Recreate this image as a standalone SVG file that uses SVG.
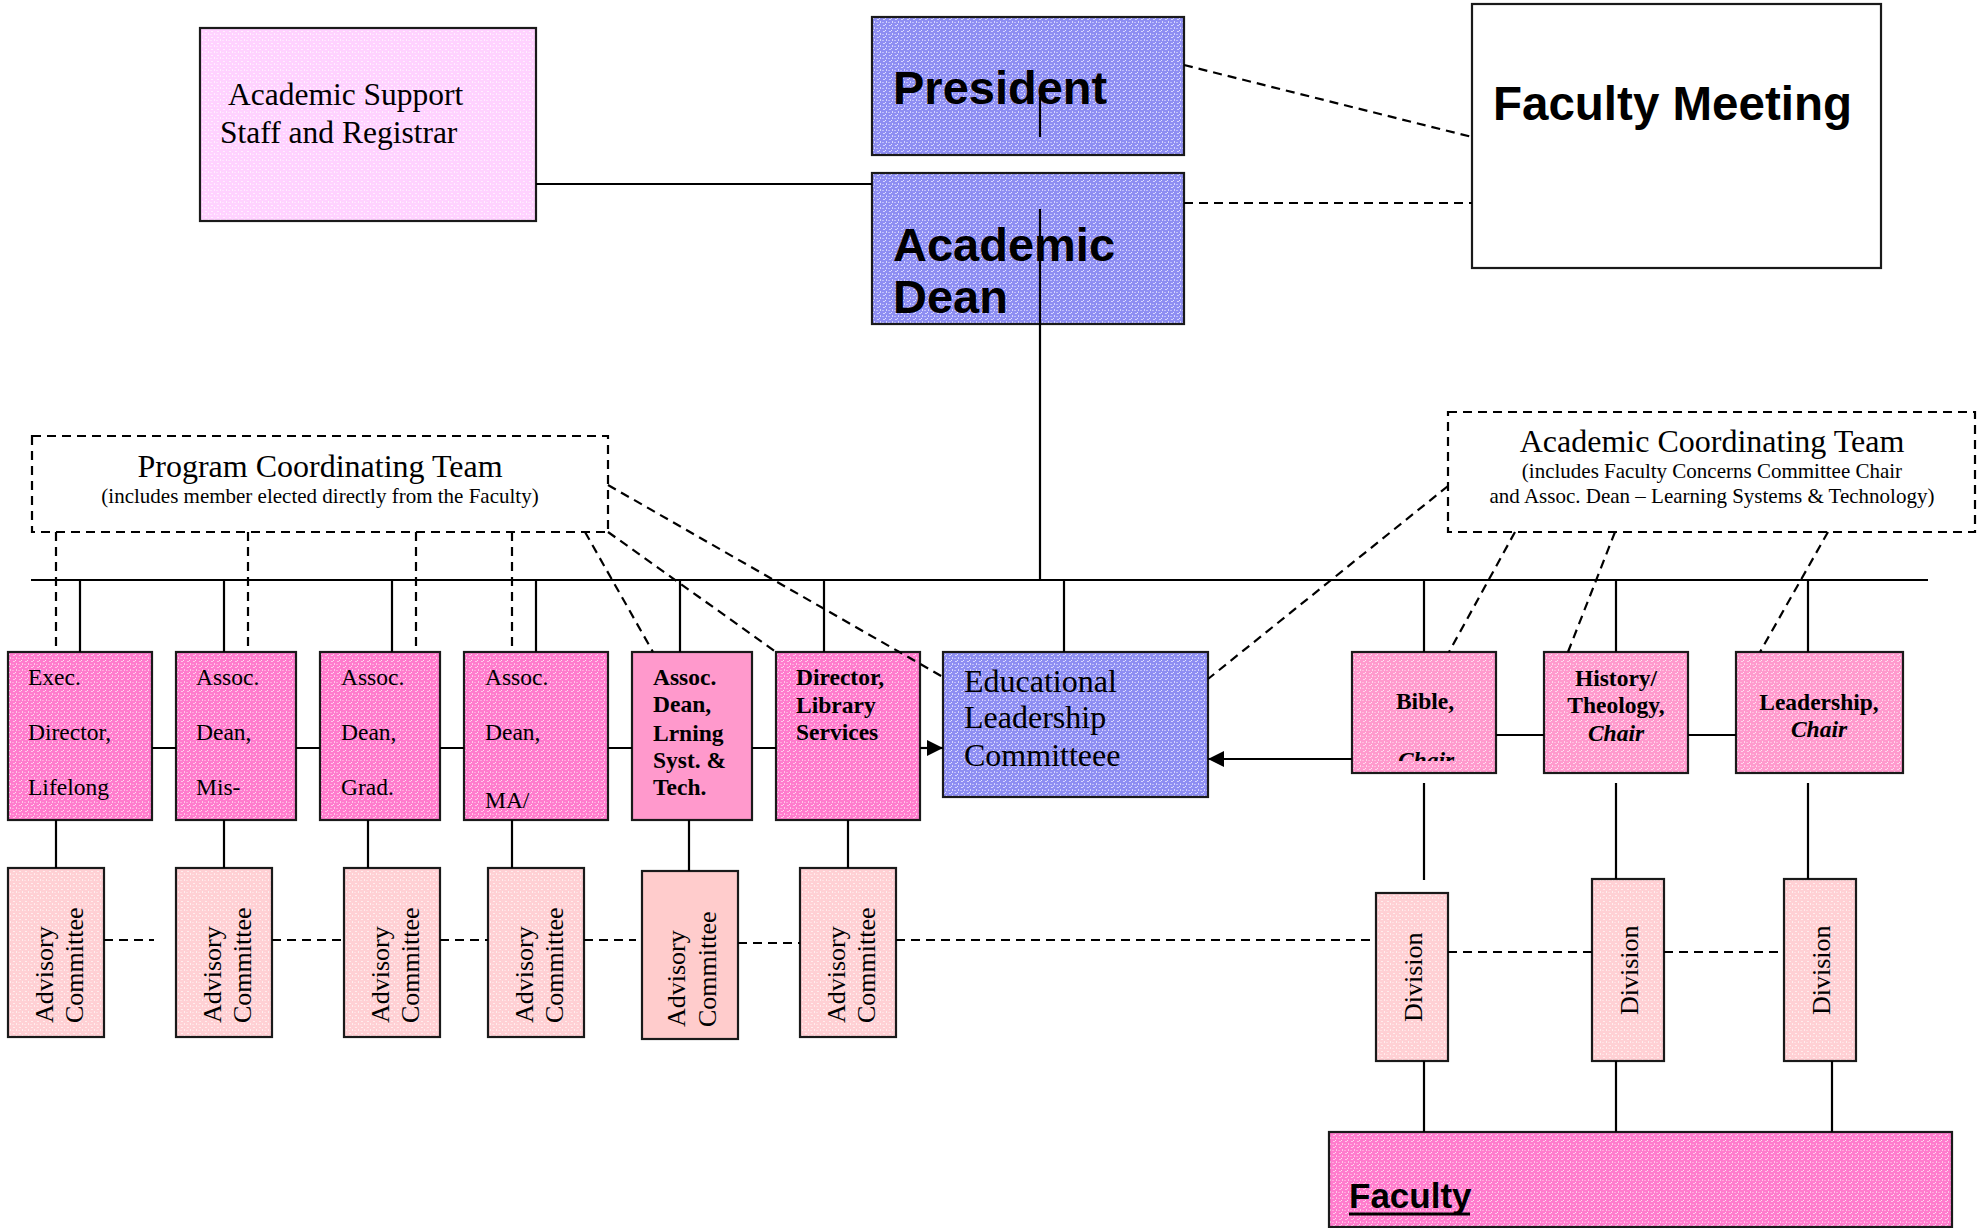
<svg xmlns="http://www.w3.org/2000/svg" width="1979" height="1228" viewBox="0 0 1979 1228">
<style>
.box{stroke:#1a1a1a;stroke-width:2.2}
.ln{stroke:#000;stroke-width:2.2;fill:none}
.dl{stroke:#000;stroke-width:2.2;fill:none;stroke-dasharray:9 6}
.serif{font-family:"Liberation Serif","Times New Roman",serif;fill:#000}
.sans{font-family:"Liberation Sans",Arial,sans-serif;font-weight:bold;fill:#000}
.big{font-size:47px}
.t32{font-size:32px}
.t21{font-size:21px}
.t23{font-size:23.5px}
.t26{font-size:26px}
.b{font-weight:bold}
.c{text-anchor:middle}
</style>
<defs>
<pattern id="pBlue" width="6" height="6" patternUnits="userSpaceOnUse">
<rect width="6" height="6" fill="#8E8EF2"/>
<rect x="1" y="1" width="2" height="1" fill="#D6D6FF"/>
<rect x="4" y="3" width="1" height="2" fill="#D6D6FF"/>
<rect x="0" y="4" width="2" height="1" fill="#BEBEFA"/>
<rect x="3" y="0" width="1" height="1" fill="#E4E4FF"/>
</pattern>
<pattern id="pPink" width="6" height="6" patternUnits="userSpaceOnUse">
<rect width="6" height="6" fill="#FF7CCD"/>
<rect x="1" y="1" width="2" height="1" fill="#FFC8EA"/>
<rect x="4" y="3" width="1" height="2" fill="#FFC8EA"/>
<rect x="0" y="4" width="2" height="1" fill="#FFA8DC"/>
<rect x="3" y="0" width="1" height="1" fill="#FFE0F2"/>
</pattern>
<pattern id="pPink2" width="6" height="6" patternUnits="userSpaceOnUse">
<rect width="6" height="6" fill="#FF9ACD"/>
<rect x="1" y="1" width="2" height="1" fill="#FFD6EC"/>
<rect x="4" y="3" width="1" height="2" fill="#FFD6EC"/>
<rect x="0" y="4" width="2" height="1" fill="#FFBCDD"/>
<rect x="3" y="0" width="1" height="1" fill="#FFE8F4"/>
</pattern>
<pattern id="pLilac" width="6" height="6" patternUnits="userSpaceOnUse">
<rect width="6" height="6" fill="#FFD2FF"/>
<rect x="1" y="1" width="2" height="1" fill="#FFF0FF"/>
<rect x="4" y="3" width="1" height="2" fill="#FFF0FF"/>
<rect x="0" y="4" width="2" height="1" fill="#FFE4FF"/>
</pattern>
<pattern id="pRose" width="6" height="6" patternUnits="userSpaceOnUse">
<rect width="6" height="6" fill="#FFD0D4"/>
<rect x="1" y="1" width="2" height="1" fill="#FFEEEE"/>
<rect x="4" y="3" width="1" height="2" fill="#FFEEEE"/>
<rect x="0" y="4" width="2" height="1" fill="#FFE0E2"/>
</pattern>
<marker id="arr" markerUnits="userSpaceOnUse" markerWidth="16" markerHeight="16" refX="16" refY="8" orient="auto">
<path d="M0,0 L16,8 L0,16 z" fill="#000"/>
</marker>
<clipPath id="bibleClip"><rect x="1352" y="652" width="144" height="109"/></clipPath>
</defs>
<rect width="1979" height="1228" fill="#fff"/>

<g id="n-support"><rect class="box" x="200" y="28" width="336" height="193" fill="url(#pLilac)"/>
<text class="serif" x="228" y="105" font-size="31.5">Academic Support</text>
<text class="serif" x="220" y="143" font-size="31.5">Staff and Registrar</text></g>

<g id="n-president"><rect class="box" x="872" y="17" width="312" height="138" fill="url(#pBlue)"/>
<text class="sans big" x="893" y="104">President</text></g>

<g id="n-dean"><rect class="box" x="872" y="173" width="312" height="151" fill="url(#pBlue)"/>
<text class="sans big" x="893" y="261">Academic</text>
<text class="sans big" x="893" y="313">Dean</text></g>

<g id="n-facmeeting"><rect class="box" x="1472" y="4" width="409" height="264" fill="#fff"/>
<text class="sans" x="1493" y="120" font-size="47.5">Faculty Meeting</text></g>

<g id="n-pct"><rect class="dl" x="32" y="436" width="576" height="96" fill="none"/>
<text class="serif t32 c" x="320" y="477">Program Coordinating Team</text>
<text class="serif t21 c" x="320" y="503">(includes member elected directly from the Faculty)</text></g>

<g id="n-act"><rect class="dl" x="1448" y="412" width="527" height="120" fill="none"/>
<text class="serif t32 c" x="1712" y="452">Academic Coordinating Team</text>
<text class="serif t21 c" x="1712" y="478">(includes Faculty Concerns Committee Chair</text>
<text class="serif t21 c" x="1712" y="503">and Assoc. Dean – Learning Systems &amp; Technology)</text></g>

<g id="n-exec"><rect class="box" x="8" y="652" width="144" height="168" fill="url(#pPink)"/>
<text class="serif t23" x="28" y="685">Exec.</text>
<text class="serif t23" x="28" y="740">Director,</text>
<text class="serif t23" x="28" y="795">Lifelong</text></g>

<g id="n-mis"><rect class="box" x="176" y="652" width="120" height="168" fill="url(#pPink)"/>
<text class="serif t23" x="196" y="685">Assoc.</text>
<text class="serif t23" x="196" y="740">Dean,</text>
<text class="serif t23" x="196" y="795">Mis-</text></g>

<g id="n-grad"><rect class="box" x="320" y="652" width="120" height="168" fill="url(#pPink)"/>
<text class="serif t23" x="341" y="685">Assoc.</text>
<text class="serif t23" x="341" y="740">Dean,</text>
<text class="serif t23" x="341" y="795">Grad.</text></g>

<g id="n-ma"><rect class="box" x="464" y="652" width="144" height="168" fill="url(#pPink)"/>
<text class="serif t23" x="485" y="685">Assoc.</text>
<text class="serif t23" x="485" y="740">Dean,</text>
<text class="serif t23" x="485" y="808">MA/</text></g>

<g id="n-lrning"><rect class="box" x="632" y="652" width="120" height="168" fill="#FF99CC"/>
<text class="serif t23 b" x="653" y="685">Assoc.</text>
<text class="serif t23 b" x="653" y="712">Dean,</text>
<text class="serif t23 b" x="653" y="741">Lrning</text>
<text class="serif t23 b" x="653" y="768">Syst. &amp;</text>
<text class="serif t23 b" x="653" y="795">Tech.</text></g>

<g id="n-library"><rect class="box" x="776" y="652" width="144" height="168" fill="url(#pPink)"/>
<text class="serif t23 b" x="796" y="685">Director,</text>
<text class="serif t23 b" x="796" y="713">Library</text>
<text class="serif t23 b" x="796" y="740">Services</text></g>

<g id="n-elc"><rect class="box" x="943" y="652" width="265" height="145" fill="url(#pBlue)"/>
<text class="serif t32" x="964" y="692">Educational</text>
<text class="serif t32" x="964" y="728">Leadership</text>
<text class="serif t32" x="964" y="766">Committeee</text></g>

<g id="n-bible"><rect class="box" x="1352" y="652" width="144" height="121" fill="url(#pPink2)"/>
<text class="serif t23 b c" x="1425" y="709">Bible,</text>
<text class="serif t23 b c" x="1426" y="768" font-style="italic" clip-path="url(#bibleClip)">Chair</text></g>

<g id="n-history"><rect class="box" x="1544" y="652" width="144" height="121" fill="url(#pPink2)"/>
<text class="serif t23 b c" x="1616" y="686">History/</text>
<text class="serif t23 b c" x="1616" y="713">Theology,</text>
<text class="serif t23 b c" x="1616" y="741" font-style="italic">Chair</text></g>

<g id="n-leadership"><rect class="box" x="1736" y="652" width="167" height="121" fill="url(#pPink2)"/>
<text class="serif t23 b c" x="1819" y="710">Leadership,</text>
<text class="serif t23 b c" x="1819" y="737" font-style="italic">Chair</text></g>

<g id="n-adv1"><rect class="box" x="8" y="868" width="96" height="169" fill="url(#pRose)"/>
<text class="serif t26" transform="translate(53,1023) rotate(-90)">Advisory</text>
<text class="serif t26" transform="translate(83,1023) rotate(-90)">Committee</text></g>
<g id="n-adv2"><rect class="box" x="176" y="868" width="96" height="169" fill="url(#pRose)"/>
<text class="serif t26" transform="translate(221,1023) rotate(-90)">Advisory</text>
<text class="serif t26" transform="translate(251,1023) rotate(-90)">Committee</text></g>
<g id="n-adv3"><rect class="box" x="344" y="868" width="96" height="169" fill="url(#pRose)"/>
<text class="serif t26" transform="translate(389,1023) rotate(-90)">Advisory</text>
<text class="serif t26" transform="translate(419,1023) rotate(-90)">Committee</text></g>
<g id="n-adv4"><rect class="box" x="488" y="868" width="96" height="169" fill="url(#pRose)"/>
<text class="serif t26" transform="translate(533,1023) rotate(-90)">Advisory</text>
<text class="serif t26" transform="translate(563,1023) rotate(-90)">Committee</text></g>
<g id="n-adv5"><rect class="box" x="642" y="871" width="96" height="168" fill="#FFCCCC"/>
<text class="serif t26" transform="translate(685,1027) rotate(-90)">Advisory</text>
<text class="serif t26" transform="translate(716,1027) rotate(-90)">Committee</text></g>
<g id="n-adv6"><rect class="box" x="800" y="868" width="96" height="169" fill="url(#pRose)"/>
<text class="serif t26" transform="translate(845,1023) rotate(-90)">Advisory</text>
<text class="serif t26" transform="translate(875,1023) rotate(-90)">Committee</text></g>

<g id="n-div1"><rect class="box" x="1376" y="893" width="72" height="168" fill="url(#pRose)"/>
<text class="serif t26" transform="translate(1422,1022) rotate(-90)">Division</text></g>
<g id="n-div2"><rect class="box" x="1592" y="879" width="72" height="182" fill="url(#pRose)"/>
<text class="serif t26" transform="translate(1638,1015) rotate(-90)">Division</text></g>
<g id="n-div3"><rect class="box" x="1784" y="879" width="72" height="182" fill="url(#pRose)"/>
<text class="serif t26" transform="translate(1830,1015) rotate(-90)">Division</text></g>

<g id="n-faculty"><rect class="box" x="1329" y="1132" width="623" height="95" fill="url(#pPink)"/>
<text class="sans" x="1349" y="1208" font-size="35">Faculty</text>
<line x1="1349" y1="1214" x2="1470" y2="1214" stroke="#000" stroke-width="3"/></g>

<g id="connectors">
<line class="ln" x1="536" y1="184" x2="872" y2="184"/>
<line class="ln" x1="1040" y1="97" x2="1040" y2="137"/>
<line class="ln" x1="1040" y1="209" x2="1040" y2="580"/>
<line class="dl" x1="1184" y1="65" x2="1472" y2="137"/>
<line class="dl" x1="1184" y1="203" x2="1472" y2="203"/>
<line class="ln" x1="31" y1="580" x2="1928" y2="580"/>
<path class="ln" d="M80,580V652 M224,580V652 M392,580V652 M536,580V652 M680,580V652 M824,580V652 M1064,580V652 M1424,580V652 M1616,580V652 M1808,580V652"/>
<path class="dl" d="M56,532V652 M248,532V652 M416,532V652 M512,532V652"/>
<line class="dl" x1="585" y1="532" x2="653" y2="652"/>
<line class="dl" x1="608" y1="532" x2="776" y2="652"/>
<line class="dl" x1="608" y1="485" x2="943" y2="677"/>
<line class="dl" x1="1448" y1="486" x2="1208" y2="679"/>
<line class="dl" x1="1515" y1="532" x2="1449" y2="652"/>
<line class="dl" x1="1615" y1="532" x2="1568" y2="652"/>
<line class="dl" x1="1828" y1="532" x2="1760" y2="652"/>
<path class="ln" d="M152,748H176 M296,748H320 M440,748H464 M608,748H632 M752,748H776"/>
<line class="ln" x1="920" y1="748" x2="943" y2="748" marker-end="url(#arr)"/>
<line class="ln" x1="1352" y1="759" x2="1208" y2="759" marker-end="url(#arr)"/>
<path class="ln" d="M1496,735H1544 M1688,735H1736"/>
<path class="ln" d="M56,820V868 M224,820V868 M368,820V868 M512,820V868 M689,820V871 M848,820V868"/>
<path class="dl" d="M104,940H154 M272,940H344 M440,940H488 M584,940H636 M896,940H1376"/>
<line class="dl" x1="738" y1="943" x2="800" y2="943"/>
<path class="dl" d="M1448,952H1592 M1664,952H1784"/>
<path class="ln" d="M1424,783V880 M1616,783V879 M1808,783V879"/>
<path class="ln" d="M1424,1061V1132 M1616,1061V1132 M1832,1061V1132"/>
</g>
</svg>
